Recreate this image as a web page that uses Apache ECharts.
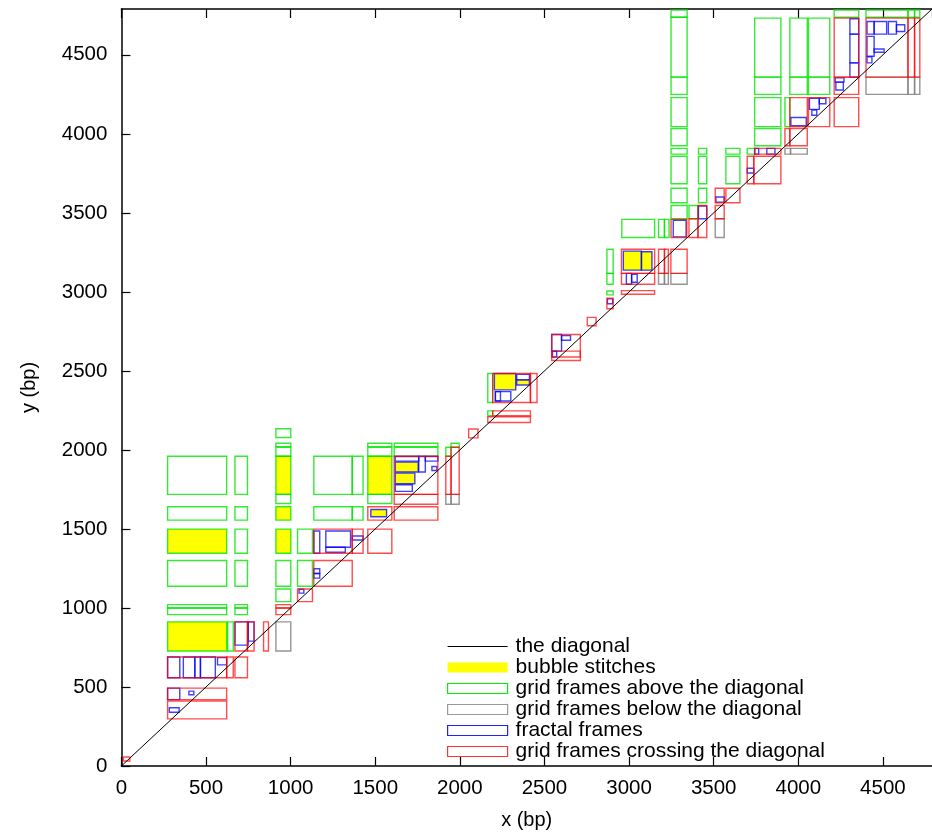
<!DOCTYPE html>
<html>
<head>
<meta charset="utf-8">
<script src="https://cdn.jsdelivr.net/npm/echarts@6/dist/echarts.min.js"></script>
<style>
  html, body { margin: 0; padding: 0; background: #fff; }
  #main { width: 932px; height: 835px; }
</style>
</head>
<body>
<div id="main"></div>
<script>
// frames are [x1, x2, y1, y2] in bp
var axisMax = 4790;
var tickStep = 500;
var diagonal = [[0, 0], [4790, 4790]];

var bubbleStitches = [
    [273, 622, 1346, 1499], [273, 622, 728, 912],
    [913, 1001, 1719, 1960], [913, 1001, 1556, 1640], [913, 1001, 1346, 1499],
    [1456, 1598, 1719, 1960], [1474, 1567, 1577, 1623],
    [1618, 1754, 1860, 1923], [1618, 1734, 1786, 1853],
    [2204, 2330, 2380, 2484], [2336, 2411, 2411, 2443],
    [2966, 3073, 3138, 3258], [3073, 3135, 3138, 3254]
];

var gridAbove = [
    [273, 622, 1719, 1960], [273, 622, 1556, 1640], [273, 622, 1346, 1499], [273, 622, 1137, 1300],
    [273, 622, 1000, 1021], [273, 622, 958, 1000], [273, 622, 728, 912],
    [671, 745, 1719, 1960], [671, 745, 1556, 1640], [671, 745, 1346, 1499], [671, 745, 1137, 1300],
    [671, 745, 1000, 1021], [671, 745, 958, 1000],
    [628, 661, 728, 912],
    [913, 1001, 2079, 2134], [913, 1001, 2021, 2042], [913, 1001, 1960, 2017], [913, 1001, 1719, 1960],
    [913, 1001, 1661, 1719], [913, 1001, 1556, 1640], [913, 1001, 1346, 1499], [913, 1001, 1137, 1300],
    [913, 1001, 1040, 1120],
    [1041, 1129, 1346, 1499], [1041, 1129, 1137, 1300],
    [1137, 1364, 1719, 1960], [1137, 1364, 1556, 1640],
    [1364, 1428, 1719, 1960], [1364, 1428, 1556, 1640],
    [1456, 1598, 2021, 2042], [1456, 1598, 1960, 2017], [1456, 1598, 1719, 1960], [1456, 1598, 1661, 1719],
    [1612, 1870, 2021, 2042], [1612, 1870, 1960, 2017],
    [1917, 1948, 1960, 2017], [1948, 1996, 2017, 2042],
    [2165, 2194, 2300, 2484], [2165, 2194, 2216, 2247],
    [2869, 2906, 3117, 3270], [2869, 2906, 3048, 3117], [2869, 2906, 2981, 3006],
    [2957, 3151, 3344, 3459], [3174, 3209, 3344, 3459], [3209, 3236, 3344, 3459],
    [3248, 3343, 3463, 3547], [3248, 3343, 3564, 3656], [3248, 3343, 3684, 3858], [3248, 3343, 3872, 3908],
    [3248, 3343, 3925, 4034], [3248, 3343, 4046, 4229], [3248, 3343, 4250, 4359], [3248, 3343, 4359, 4738],
    [3248, 3343, 4738, 4784],
    [3354, 3407, 3463, 3547],
    [3410, 3459, 3564, 3656], [3410, 3459, 3684, 3858], [3410, 3459, 3872, 3908],
    [3572, 3655, 3684, 3858], [3572, 3655, 3872, 3908],
    [3698, 3742, 3872, 3908],
    [3742, 3897, 3925, 4034], [3742, 3897, 4046, 4229], [3742, 3897, 4250, 4359], [3742, 3897, 4359, 4732],
    [3921, 3950, 4046, 4229],
    [3950, 4053, 4250, 4359], [3950, 4053, 4359, 4732],
    [4060, 4186, 4250, 4359], [4060, 4186, 4359, 4732],
    [4212, 4357, 4738, 4784], [4400, 4648, 4738, 4784], [4648, 4687, 4738, 4784], [4687, 4718, 4738, 4784]
];

var gridBelow = [
    [913, 1001, 728, 912],
    [1917, 1948, 1656, 1719], [1948, 1996, 1656, 1719],
    [3174, 3209, 3048, 3117], [3209, 3232, 3048, 3117], [3247, 3343, 3048, 3117],
    [3509, 3562, 3344, 3463],
    [3921, 3954, 3872, 3908], [3954, 4053, 3872, 3908],
    [4400, 4648, 4250, 4359], [4648, 4687, 4250, 4359], [4687, 4718, 4250, 4359]
];

var fractalFrames = [
    [273, 345, 420, 493], [399, 428, 451, 474], [283, 341, 340, 369],
    [273, 345, 558, 690], [366, 434, 558, 690], [434, 467, 558, 690], [467, 555, 558, 690], [568, 622, 640, 686],
    [671, 749, 765, 912], [749, 784, 790, 912],
    [1050, 1078, 1094, 1118],
    [1137, 1172, 1346, 1487], [1208, 1354, 1384, 1487], [1208, 1323, 1353, 1384],
    [1364, 1428, 1430, 1455],
    [1137, 1172, 1218, 1248], [1137, 1172, 1189, 1218],
    [1474, 1567, 1577, 1623],
    [1618, 1757, 1929, 1958], [1757, 1796, 1860, 1958], [1796, 1870, 1929, 1958],
    [1618, 1754, 1860, 1923], [1618, 1734, 1786, 1853], [1618, 1719, 1738, 1780], [1835, 1864, 1870, 1895],
    [2204, 2330, 2380, 2484], [2336, 2411, 2443, 2478], [2336, 2411, 2411, 2443],
    [2210, 2301, 2310, 2369], [2210, 2240, 2310, 2369],
    [2543, 2601, 2625, 2730], [2601, 2654, 2694, 2723], [2547, 2572, 2588, 2625],
    [2872, 2903, 2925, 2956],
    [2966, 3073, 3138, 3258], [3073, 3135, 3138, 3254], [2984, 3015, 3048, 3117], [3015, 3048, 3061, 3111],
    [3261, 3337, 3348, 3453],
    [3410, 3459, 3463, 3543],
    [3513, 3562, 3568, 3600],
    [3698, 3737, 3752, 3782],
    [3742, 3766, 3872, 3908], [3814, 3862, 3872, 3908],
    [3956, 4047, 4051, 4103],
    [4066, 4124, 4155, 4225], [4124, 4163, 4190, 4225], [4080, 4109, 4118, 4151],
    [4305, 4357, 4631, 4728], [4305, 4357, 4449, 4631], [4305, 4357, 4359, 4449],
    [4218, 4270, 4327, 4354], [4222, 4266, 4277, 4327],
    [4406, 4448, 4631, 4711], [4448, 4522, 4631, 4711], [4532, 4580, 4631, 4711], [4580, 4629, 4648, 4690],
    [4406, 4448, 4491, 4617], [4448, 4507, 4516, 4537], [4406, 4435, 4449, 4487]
];

var gridCrossing = [
    [11, 50, 32, 57],
    [273, 622, 420, 493], [273, 622, 298, 411],
    [273, 622, 558, 690], [622, 661, 558, 690], [671, 745, 558, 690],
    [671, 745, 728, 912], [745, 784, 728, 912], [840, 869, 728, 912],
    [913, 1001, 1000, 1021], [913, 1001, 958, 1000],
    [1041, 1129, 1040, 1120],
    [1137, 1364, 1346, 1499], [1364, 1428, 1346, 1499], [1456, 1598, 1346, 1499],
    [1137, 1364, 1137, 1300],
    [1456, 1598, 1556, 1640],
    [1612, 1870, 1719, 1960], [1612, 1870, 1656, 1719], [1612, 1870, 1556, 1640],
    [1917, 1948, 1719, 1960], [1948, 1996, 1719, 2017],
    [2052, 2107, 2076, 2132],
    [2165, 2417, 2174, 2210], [2194, 2417, 2216, 2247],
    [2194, 2417, 2300, 2484], [2417, 2456, 2300, 2484],
    [2543, 2712, 2566, 2730], [2543, 2712, 2588, 2625],
    [2753, 2805, 2786, 2839],
    [2869, 2906, 2893, 2960],
    [2955, 3151, 2985, 3008],
    [2955, 3151, 3117, 3270], [2955, 3151, 3048, 3117],
    [3174, 3209, 3117, 3270], [3209, 3232, 3117, 3270], [3247, 3343, 3117, 3270],
    [3248, 3341, 3344, 3459],
    [3354, 3407, 3344, 3463], [3407, 3459, 3344, 3547],
    [3509, 3562, 3564, 3656], [3509, 3562, 3463, 3547],
    [3572, 3655, 3564, 3656],
    [3698, 3737, 3684, 3858], [3737, 3897, 3684, 3858],
    [3742, 3897, 3872, 3908],
    [3921, 3950, 3925, 4034], [3950, 4053, 3925, 4034],
    [3950, 4053, 4046, 4229], [4060, 4186, 4046, 4229], [4212, 4357, 4046, 4229],
    [4212, 4357, 4359, 4732], [4212, 4357, 4250, 4359],
    [4400, 4648, 4359, 4732], [4648, 4687, 4359, 4732], [4687, 4718, 4359, 4732]
];

var fontName = '"Liberation Sans", Arial, sans-serif';

var myChart = echarts.init(document.getElementById('main'));

function frameRenderer(stroke, fill, width) {
    return function(params, api) {
        var p1 = api.coord([api.value(0), api.value(3)]);
        var p2 = api.coord([api.value(1), api.value(2)]);
        return {
            type: 'rect',
            shape: {x: p1[0], y: p1[1], width: p2[0] - p1[0], height: p2[1] - p1[1]},
            style: {fill: fill, stroke: stroke, lineWidth: width}
        };
    };
}

function frameSeries(name, data, stroke, fill, width) {
    return {
        name: name,
        type: 'custom',
        data: data,
        encode: {x: [0, 1], y: [2, 3]},
        renderItem: frameRenderer(stroke, fill, width),
        itemStyle: {color: fill !== 'none' ? fill : stroke},
        clip: true
    };
}

function plainNumber(v) {
    return String(v);
}

var option = {
    animation: false,
    grid: {left: 121.4, top: 9, right: -12.3, bottom: 64.3},
    legend: {
        orient: 'vertical',
        left: 442,
        top: 631,
        itemWidth: 60,
        itemHeight: 10,
        itemGap: 0,
        selectedMode: false,
        textStyle: {fontSize: 21, fontFamily: fontName, color: '#000', lineHeight: 21, padding: [0, 0, 0, 3]},
        data: [
            {name: 'the diagonal', itemStyle: {opacity: 0}, lineStyle: {color: '#000', width: 1}},
            {name: 'bubble stitches', icon: 'rect', itemStyle: {color: '#ffff00'}},
            {name: 'grid frames above the diagonal', icon: 'rect',
                itemStyle: {color: 'rgba(0,0,0,0)', borderColor: '#00ee00', borderWidth: 1.2}},
            {name: 'grid frames below the diagonal', icon: 'rect',
                itemStyle: {color: 'rgba(0,0,0,0)', borderColor: '#999999', borderWidth: 1.2}},
            {name: 'fractal frames', icon: 'rect',
                itemStyle: {color: 'rgba(0,0,0,0)', borderColor: '#2222ff', borderWidth: 1.2}},
            {name: 'grid frames crossing the diagonal', icon: 'rect',
                itemStyle: {color: 'rgba(0,0,0,0)', borderColor: '#ff3333', borderWidth: 1.2}}
        ]
    },
    xAxis: [{
        type: 'value', min: 0, max: axisMax, interval: tickStep, position: 'bottom',
        name: 'x (bp)', nameLocation: 'middle', nameGap: 44,
        nameTextStyle: {fontSize: 20, fontFamily: fontName, color: '#000'},
        axisLine: {show: true, onZero: false, lineStyle: {color: '#000', width: 1.5}},
        axisTick: {inside: true, length: 9, lineStyle: {color: '#000', width: 1.2}},
        axisLabel: {showMaxLabel: false, fontSize: 20.5, fontFamily: fontName, color: '#000', margin: 12,
            formatter: plainNumber},
        splitLine: {show: false}
    }, {
        type: 'value', min: 0, max: axisMax, interval: tickStep, position: 'top',
        axisLine: {show: true, onZero: false, lineStyle: {color: '#000', width: 1.5}},
        axisTick: {inside: true, length: 9, lineStyle: {color: '#000', width: 1.2}},
        axisLabel: {show: false},
        splitLine: {show: false}
    }],
    yAxis: [{
        type: 'value', min: 0, max: axisMax, interval: tickStep,
        name: 'y (bp)', nameLocation: 'middle', nameGap: 82, nameRotate: 90,
        nameTextStyle: {fontSize: 20, fontFamily: fontName, color: '#000'},
        axisLine: {show: true, onZero: false, lineStyle: {color: '#000', width: 1.5}},
        axisTick: {inside: true, length: 9, lineStyle: {color: '#000', width: 1.2}},
        axisLabel: {showMaxLabel: false, fontSize: 20.5, fontFamily: fontName, color: '#000', margin: 14,
            formatter: plainNumber},
        splitLine: {show: false}
    }],
    series: [
        {
            name: 'the diagonal',
            type: 'line',
            data: diagonal,
            symbol: 'none',
            lineStyle: {color: '#000', width: 1},
            itemStyle: {color: '#000'},
            z: 5
        },
        frameSeries('bubble stitches', bubbleStitches, 'none', '#ffff00', 0),
        frameSeries('grid frames above the diagonal', gridAbove, 'rgba(0,230,0,0.8)', 'none', 1.4),
        frameSeries('grid frames below the diagonal', gridBelow, 'rgba(130,130,130,0.85)', 'none', 1.4),
        frameSeries('fractal frames', fractalFrames, 'rgba(0,0,255,0.75)', 'none', 1.4),
        frameSeries('grid frames crossing the diagonal', gridCrossing, 'rgba(255,0,0,0.7)', 'none', 1.4)
    ]
};

myChart.setOption(option);
</script>
</body>
</html>
